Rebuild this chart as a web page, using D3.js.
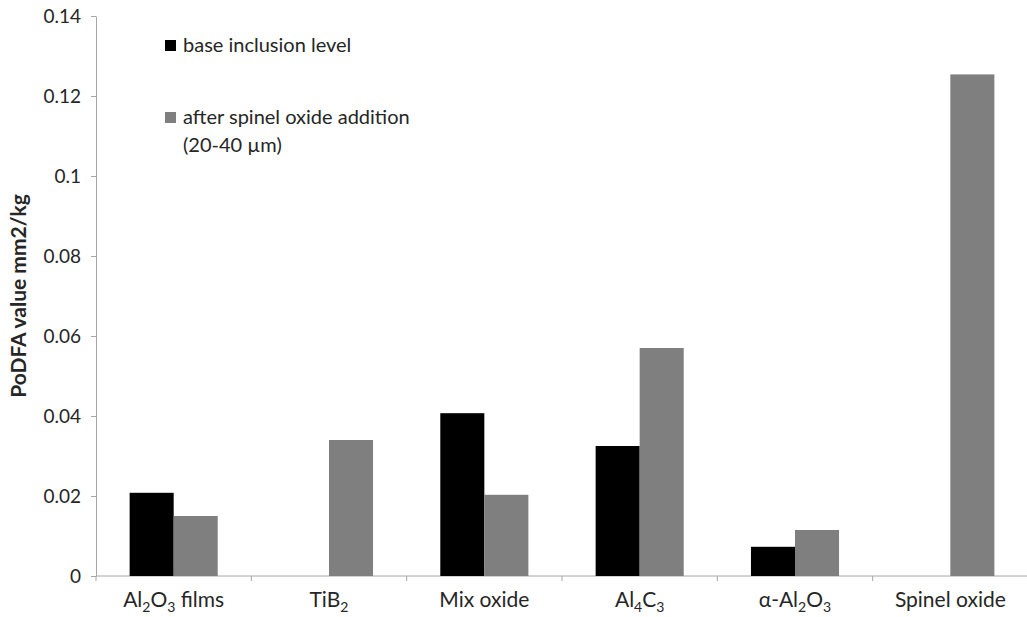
<!DOCTYPE html>
<html>
<head>
<meta charset="utf-8">
<script src="https://cdn.jsdelivr.net/npm/d3@7"></script>
<style>
  body { margin: 0; background: #fff; }
  text { font-family: Lato, "Open Sans", sans-serif; fill: #262626; }
  .axis path, .axis line { stroke: #a6a6a6; }
</style>
</head>
<body>
<div id="chart"></div>
<script>
var width = 1027;
var height = 617;

// categories: "_" marks a subscript digit
var categories = ['Al_2O_3 films', 'TiB_2', 'Mix oxide', 'Al_4C_3', 'α-Al_2O_3', 'Spinel oxide'];
var baseValues = [0.0208, 0, 0.0407, 0.0325, 0.0073, 0];
var afterValues = [0.015, 0.034, 0.0203, 0.057, 0.0115, 0.1254];
var seriesNames = ['base inclusion level', 'after spinel oxide addition'];
var seriesColors = ['#000000', '#7f7f7f'];
var yTicks = [0, 0.02, 0.04, 0.06, 0.08, 0.1, 0.12, 0.14];

var svg = d3.select('#chart')
    .append('svg')
    .attr('width', width)
    .attr('height', height);

var x0 = d3.scaleBand().domain(categories).range([96, 1028]).paddingInner(0.433).paddingOuter(0.2165);
var x1 = d3.scaleBand().domain([0, 1]).range([0, x0.bandwidth()]);
var y = d3.scaleLinear().domain([0, 0.14]).range([576, 16]);

// y axis
var yAxis = d3.axisLeft(y).tickValues(yTicks).tickSize(5).tickSizeOuter(0)
    .tickFormat(function(d) { return d === 0 ? '0' : String(+d.toFixed(2)); });
svg.append('g')
    .attr('class', 'y axis')
    .attr('transform', 'translate(96,0)')
    .call(yAxis)
    .call(function(g) {
        g.selectAll('text').attr('x', -15).style('font-size', '19px').attr('fill', '#262626');
    });

// x axis with ticks between categories
var xLine = svg.append('g').attr('class', 'x axis');
xLine.append('line')
    .attr('x1', 96).attr('x2', 1027)
    .attr('y1', y(0)).attr('y2', y(0));
var step = x0.step();
var bounds = d3.range(categories.length + 1).map(function(i) { return x0(categories[0]) - x0.paddingOuter() * step + i * step; });
xLine.selectAll('line.tk')
    .data(bounds)
    .enter().append('line')
    .attr('class', 'tk')
    .attr('x1', function(d) { return d; }).attr('x2', function(d) { return d; })
    .attr('y1', y(0)).attr('y2', y(0) + 5);

// bars
var groups = svg.selectAll('g.group')
    .data(categories)
    .enter().append('g')
    .attr('class', 'group')
    .attr('transform', function(d) { return 'translate(' + x0(d) + ',0)'; });

groups.selectAll('rect')
    .data(function(d, i) { return [baseValues[i], afterValues[i]]; })
    .enter().append('rect')
    .attr('x', function(d, j) { return x1(j); })
    .attr('width', x1.bandwidth())
    .attr('y', function(d) { return y(d); })
    .attr('height', function(d) { return y(0) - y(d); })
    .attr('fill', function(d, j) { return seriesColors[j]; });

// category labels with subscripts
function richText(sel, label) {
    var shift = 0;
    label.split(/(_\d)/).forEach(function(part) {
        if (!part) return;
        if (part[0] === '_') {
            sel.append('tspan').attr('dy', 5 - shift).style('font-size', '14px').text(part.slice(1));
            shift = 5;
        } else {
            sel.append('tspan').attr('dy', -shift).text(part);
            shift = 0;
        }
    });
}
svg.selectAll('text.cat')
    .data(categories)
    .enter().append('text')
    .attr('class', 'cat')
    .attr('x', function(d) { return x0(d) + x0.bandwidth() / 2; })
    .attr('y', 607)
    .attr('text-anchor', 'middle')
    .style('font-size', '21px')
    .each(function(d) { richText(d3.select(this), d); });

// y axis title
svg.append('text')
    .attr('transform', 'translate(26,' + y(0.07) + ') rotate(-90)')
    .attr('text-anchor', 'middle')
    .style('font-size', '21px')
    .style('font-weight', 'bold')
    .attr('fill', '#000')
    .text('PoDFA value mm2/kg');

// legend
var legend = svg.append('g').attr('class', 'legend');
legend.append('rect').attr('x', 165).attr('y', 40).attr('width', 11).attr('height', 11).attr('fill', seriesColors[0]);
legend.append('text').attr('x', 183).attr('y', 52).style('font-size', '20px').text(seriesNames[0]);
legend.append('rect').attr('x', 165).attr('y', 112).attr('width', 11).attr('height', 11).attr('fill', seriesColors[1]);
legend.append('text').attr('x', 183).attr('y', 124).style('font-size', '20px').text(seriesNames[1]);
legend.append('text').attr('x', 183).attr('y', 152).style('font-size', '20px').text('(20-40 µm)');
</script>
</body>
</html>
